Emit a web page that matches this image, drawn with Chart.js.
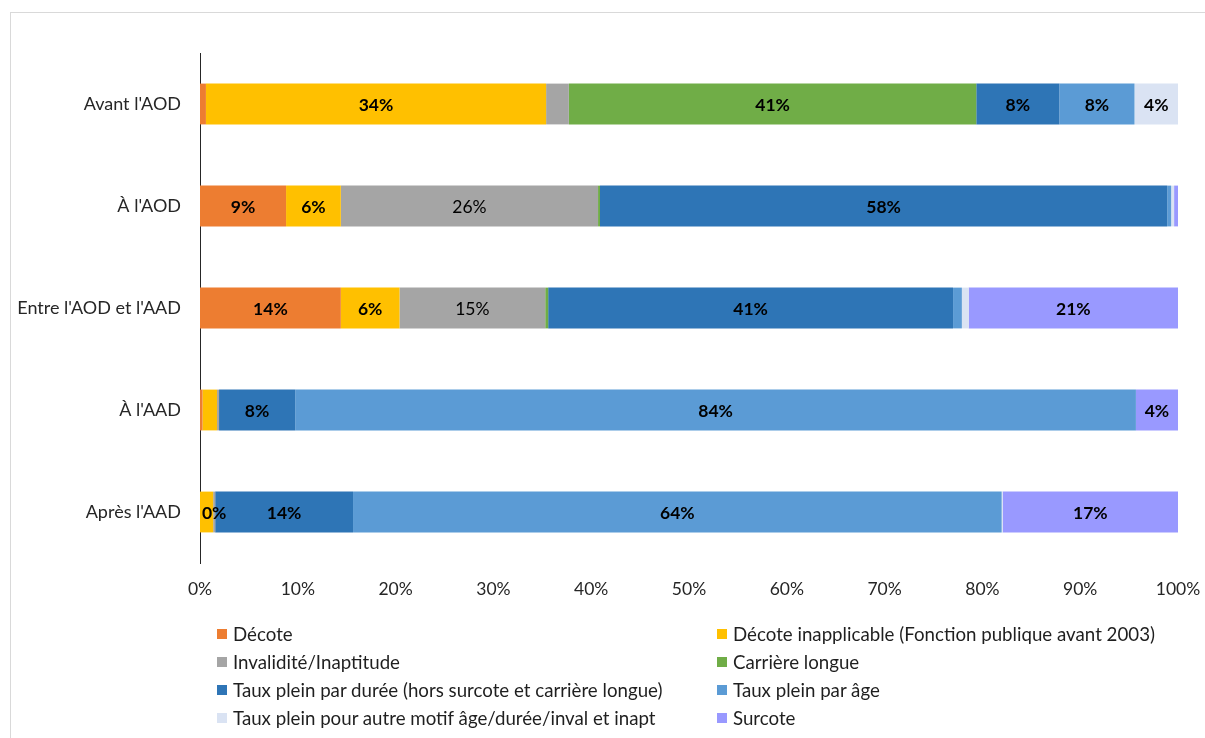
<!DOCTYPE html>
<html lang="fr">
<head>
<meta charset="utf-8">
<title>Motifs de départ à la retraite selon l'âge</title>
<script src="https://cdn.jsdelivr.net/npm/chart.js@4.4.1/dist/chart.umd.min.js"></script>
<style>
  html, body { margin: 0; padding: 0; background: #ffffff; }
  body { width: 1205px; height: 738px; position: relative; overflow: hidden; font-family: Lato, "Open Sans", sans-serif; }
  #frame { position: absolute; left: 10px; top: 12px; width: 1220px; height: 760px; border: 1px solid #d9d9d9; box-sizing: border-box; }
  #wrap { position: absolute; left: 0; top: 0; width: 1205px; height: 738px; }
  #legend { position: absolute; left: 217px; top: 620px; display: grid; grid-template-columns: 500px 480px; grid-auto-rows: 28px; font-size: 18.7px; color: #1f1f1f; }
  #legend .item { display: flex; align-items: center; white-space: nowrap; }
  #legend .box { width: 10px; height: 10px; margin-right: 6px; flex: none; }
</style>
</head>
<body>
<div id="frame"></div>
<div id="wrap"><canvas id="chart" width="1205" height="738"></canvas></div>
<div id="legend"></div>
<script>
// Moments of departure, relative to the legal opening age (AOD) and the full-rate age (AAD)
const categories = ["Avant l'AOD", "À l'AOD", "Entre l'AOD et l'AAD", "À l'AAD", "Après l'AAD"];

// Series names, in stacking order
const seriesNames = [
  "Décote",
  "Décote inapplicable (Fonction publique avant 2003)",
  "Invalidité/Inaptitude",
  "Carrière longue",
  "Taux plein par durée (hors surcote et carrière longue)",
  "Taux plein par âge",
  "Taux plein pour autre motif âge/durée/inval et inapt",
  "Surcote"
];

// Shares in % for each category
const decote             = [0.6,  8.8, 14.4, 0.25, 0];
const decoteInapplicable = [34.4, 5.6,  6.0, 1.45, 1.3];
const invalidite         = [2.3, 26.3, 14.9, 0.2,  0.2];
const carriereLongue     = [41.2, 0.2,  0.3, 0,    0];
const tauxPleinDuree     = [8.4, 58.0, 41.4, 7.6, 13.6];
const tauxPleinAge       = [7.6,  0.4,  0.9, 83.9, 64.0];
const tauxPleinAutre     = [4.4,  0.3,  0.7, 0,    0.1];
const surcote            = [0,    0.4, 21.4, 4.2, 17.3];

// Axis tick values
const xTicks = [0, 10, 20, 30, 40, 50, 60, 70, 80, 90, 100];

const seriesValues = [decote, decoteInapplicable, invalidite, carriereLongue,
                      tauxPleinDuree, tauxPleinAge, tauxPleinAutre, surcote];

const seriesColors = ['#ED7D31', '#FFC000', '#A5A5A5', '#70AD47',
                      '#2E75B6', '#5B9BD5', '#DAE3F3', '#9999FF'];

// Labels in bold, except for the invalidity series
const boldLabels = [true, true, false, true, true, true, true, true];
// Segments labelled (in bold) despite their small size: [series, category]
const extraLabels = [[2, 4]];

// 100 % stacking: each bar is scaled to its own total
const rowTotals = categories.map((_, j) => seriesValues.reduce((s, arr) => s + arr[j], 0));

const FONT = 'Lato';

const segmentLabels = {
  id: 'segmentLabels',
  afterDatasetsDraw(chart) {
    const ctx = chart.ctx;
    ctx.save();
    ctx.textAlign = 'center';
    ctx.textBaseline = 'middle';
    ctx.fillStyle = '#000000';
    chart.data.datasets.forEach((ds, i) => {
      const meta = chart.getDatasetMeta(i);
      meta.data.forEach((el, j) => {
        const raw = seriesValues[i][j];
        const forced = extraLabels.some(p => p[0] === i && p[1] === j);
        if (!(raw >= 3 || forced)) return;
        ctx.font = (boldLabels[i] || forced ? 'bold ' : '') + '17.5px ' + FONT;
        const x = (el.x + el.base) / 2;
        ctx.fillText(Math.round(raw) + '%', x, el.y + 1);
      });
    });
    ctx.restore();
  }
};

function build() {
  const chart = new Chart(document.getElementById('chart'), {
    type: 'bar',
    data: {
      labels: categories,
      datasets: seriesNames.map((name, i) => ({
        label: name,
        data: seriesValues[i].map((v, j) => v / rowTotals[j] * 100),
        backgroundColor: seriesColors[i],
        borderWidth: 0,
        barPercentage: 0.4,
        categoryPercentage: 1
      }))
    },
    options: {
      indexAxis: 'y',
      responsive: false,
      animation: false,
      devicePixelRatio: 1,
      layout: { padding: { left: 0, right: 27, top: 53, bottom: 0 } },
      plugins: {
        legend: { display: false },
        tooltip: { enabled: false }
      },
      scales: {
        x: {
          stacked: true,
          min: 0,
          max: 100,
          afterBuildTicks: s => { s.ticks = xTicks.map(v => ({ value: v })); },
          afterFit: s => { s.height = 175; s.paddingLeft = 0; s.paddingRight = 0; },
          grid: { display: false, drawTicks: false },
          border: { display: false },
          ticks: {
            padding: 16,
            color: '#262626',
            font: { family: FONT, size: 17.5 },
            callback: v => v + '%',
            maxRotation: 0
          }
        },
        y: {
          stacked: true,
          afterFit: s => { s.width = 200; s.paddingTop = 0; s.paddingBottom = 0; },
          grid: { display: false, drawTicks: false },
          border: { display: true, color: '#262626', width: 1 },
          ticks: {
            padding: 19,
            color: '#262626',
            font: { family: FONT, size: 18 }
          }
        }
      }
    },
    plugins: [segmentLabels]
  });

  // Two-column legend from the chart's own legend items
  const items = Chart.defaults.plugins.legend.labels.generateLabels(chart);
  const legend = document.getElementById('legend');
  items.forEach(it => {
    const d = document.createElement('div');
    d.className = 'item';
    const b = document.createElement('span');
    b.className = 'box';
    b.style.background = it.fillStyle;
    const t = document.createElement('span');
    t.textContent = it.text;
    d.appendChild(b);
    d.appendChild(t);
    legend.appendChild(d);
  });
}

if (document.fonts && document.fonts.load) {
  Promise.all([
    document.fonts.load('16px Lato'),
    document.fonts.load('bold 16px Lato')
  ]).then(build, build);
} else {
  build();
}
</script>
</body>
</html>
